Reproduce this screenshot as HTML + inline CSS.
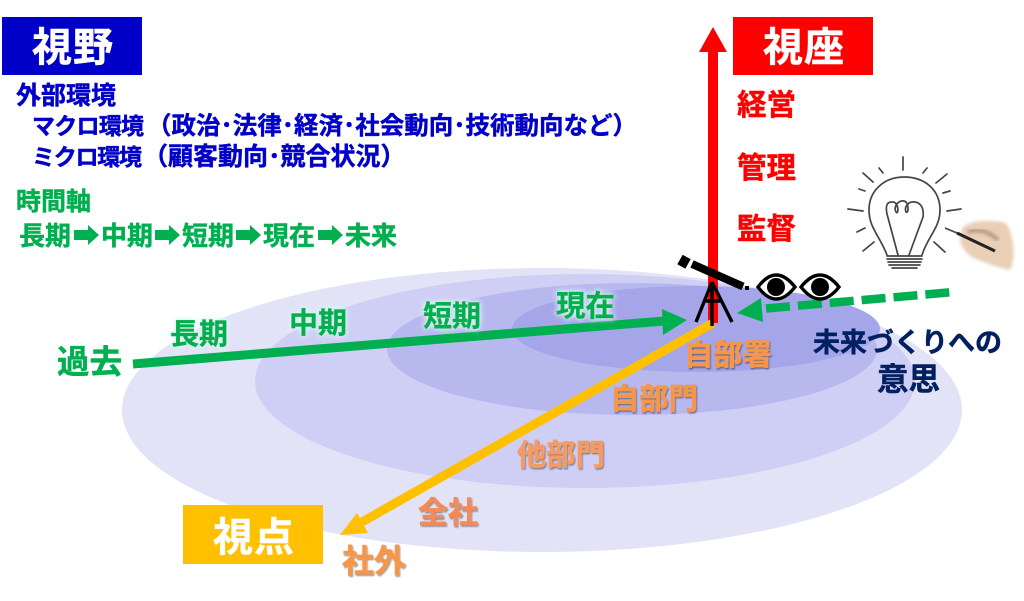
<!DOCTYPE html>
<html><head><meta charset="utf-8"><style>
html,body{margin:0;padding:0;background:#fff}
svg{display:block}
text{font-family:"Liberation Sans","Noto Sans CJK JP",sans-serif;font-weight:700;stroke-width:.45px;paint-order:stroke}
</style></head><body>
<svg width="1024" height="601" viewBox="0 0 1024 601" xmlns="http://www.w3.org/2000/svg">
<defs>
<filter id="s" x="-20%" y="-20%" width="140%" height="150%"><feDropShadow dx="1" dy="1.5" stdDeviation=".8" flood-color="#000" flood-opacity=".4"/></filter>
<filter id="g" x="-20%" y="-30%" width="140%" height="160%"><feGaussianBlur in="SourceAlpha" stdDeviation="3" result="b"/><feFlood flood-color="#d8f6f4" flood-opacity="1"/><feComposite in2="b" operator="in" result="c"/><feMerge><feMergeNode in="c"/><feMergeNode in="c"/><feMergeNode in="SourceGraphic"/></feMerge></filter>
<filter id="b1"><feGaussianBlur stdDeviation="1.6"/></filter>
<filter id="b0"><feGaussianBlur stdDeviation=".35"/></filter>
</defs>
<rect width="1024" height="601" fill="#fff"/>
<ellipse cx="542" cy="410" rx="420" ry="142" fill="#e2e3f7"/>
<ellipse cx="585" cy="381" rx="330" ry="107" fill="#cfcef4"/>
<ellipse cx="632" cy="349" rx="245" ry="66" fill="#b7b8ee"/>
<ellipse cx="696" cy="329" rx="184" ry="43" fill="#a5a6e9"/>

<rect x="2" y="17" width="140" height="58" fill="#0000c8"/>
<text x="32" y="61" font-size="40" fill="#fff" stroke="#fff" textLength="81">視野</text>
<rect x="733" y="17" width="140" height="58" fill="#ff0000"/>
<text x="763" y="61" font-size="40" fill="#fff" stroke="#fff" textLength="81">視座</text>
<rect x="183" y="505" width="140" height="59" fill="#ffc000"/>
<text x="213" y="551" font-size="40" fill="#fff" stroke="#fff" textLength="81">視点</text>

<g fill="#0000c8" stroke="#0000c8">
<text x="16" y="104" font-size="25" textLength="100">外部環境</text>
<text x="32" y="134" font-size="23" textLength="112">マクロ環境</text>
<text x="147" y="134" font-size="24.5">（政治･法律･経済･社会動向･技術動向など）</text>
<text x="32" y="165" font-size="23" textLength="110">ミクロ環境</text>
<text x="143" y="165" font-size="25">（顧客動向･競合状況）</text>
</g>
<text x="16" y="210" font-size="25" fill="#00b050" stroke="#00b050" textLength="75">時間軸</text>
<g fill="#00b050" stroke="#00b050" font-size="26">
<text x="19" y="245">長期</text><text x="101" y="245">中期</text>
<text x="182" y="245">短期</text><text x="263" y="245">現在</text>
<text x="345" y="245">未来</text>
</g>
<g fill="#00b050">
<path d="M74 230h14v-5l11 10-11 10v-5H74z"/>
<path d="M155 230h14v-5l11 10-11 10v-5h-14z"/>
<path d="M236 230h14v-5l11 10-11 10v-5h-14z"/>
<path d="M318 230h14v-5l11 10-11 10v-5h-14z"/>
</g>

<rect x="708" y="50" width="10" height="273" fill="#ff0000"/>
<path d="M699 52 713 27 727 52z" fill="#ff0000"/>
<g fill="#ff0000" stroke="#ff0000" font-size="29.5">
<text x="737" y="115">経営</text>
<text x="737" y="178">管理</text>
<text x="737" y="239">監督</text>
</g>

<path d="M133 364 664 321" stroke="#00b050" stroke-width="9"/>
<path d="M662 309 687 320 663 335z" fill="#00b050"/>
<path d="M713 323 362 522" stroke="#ffc000" stroke-width="9"/>
<path d="M340 535 357 513 368 533z" fill="#ffc000"/>

<path d="M766 308.5 954 292" stroke="#00b050" stroke-width="8.5" stroke-dasharray="24 8"/>
<path d="M737 313 761 298 763 322z" fill="#00b050"/>

<g stroke="#000" fill="none">
<path d="M692 264 743 286.5" stroke-width="8"/>
<path d="M680 259.5 688 264" stroke-width="11"/>
<path d="M712 282 696 322M712 282 732 322M712 282V326M703 301H722" stroke-width="3.4"/>
</g>
<rect x="745" y="286" width="4" height="4" fill="#000"/>
<path d="M758 287Q776 263 795 287Q776 311 758 287z" fill="#fff" stroke="#000" stroke-width="3.4"/>
<circle cx="776" cy="287" r="9" fill="#000"/>
<path d="M801 287Q820 263 839 287Q820 311 801 287z" fill="#fff" stroke="#000" stroke-width="3.4"/>
<circle cx="820" cy="287" r="9" fill="#000"/>

<g fill="none" stroke="#444" stroke-width="1.7" stroke-linecap="round" filter="url(#b0)">
<path d="M887 255C880 236 869 228 869 210C869 190 885 177 904 177C925 177 940 190 940 210C940 228 928 236 922 255"/>
<path d="M898 255 887 214C885 204 888 202 892 202C899 201 899 216 896 212C893 206 899 200 904 201C909 202 909 214 906 212C904 207 908 201 915 202C922 203 924 210 923 217L909 255"/>
<path d="M887 256H922M887 259H922M888 262H921M889 265H920M892 268H917"/>
<path d="M903 157V170M863 173 873 182M879 168 883 173M859 189 865 191M848 209 863 211M857 232 865 228M863 251 874 242M923 173 927 168M936 183 947 174M943 193 950 191M947 211 961 209M934 242 945 252"/>
</g>
<path d="M962 228C968 223 978 220 990 221C1000 221 1006 222 1008 226C1014 240 1016 258 1010 270C1003 268 993 266 987 263C978 260 970 257 967 253C963 248 960 244 960 240z" fill="#e8cfb6" filter="url(#b1)"/>
<path d="M968 232C978 228 990 232 998 240" stroke="#b8977d" stroke-width="4" fill="none" filter="url(#b1)"/>
<path d="M945 228 957 233" stroke="#444" stroke-width="1.7"/>
<path d="M957 233 995 251" stroke="#222" stroke-width="3"/>

<g filter="url(#g)" fill="#00b050" stroke="#00b050">
<text x="170" y="344" font-size="29">長期</text>
<text x="289" y="333" font-size="29">中期</text>
<text x="423" y="326" font-size="29">短期</text>
<text x="556" y="316" font-size="29.5">現在</text>
</g>
<text x="57" y="373" font-size="32.5" fill="#00b050" stroke="#00b050">過去</text>
<g filter="url(#s)">
<g fill="#f79646" stroke="#f79646" font-size="29.3">
<text x="684" y="365">自部署</text>
<text x="610" y="409">自部門</text>
</g>
<text x="517" y="465" font-size="29.3" fill="#f79a60" stroke="#f79a60">他部門</text>
<text x="418" y="523" font-size="30" fill="#f58a55" stroke="#f58a55">全社</text>
<text x="342" y="572" font-size="32" fill="#f79646" stroke="#f79646">社外</text>
</g>
<g fill="#002060" stroke="#002060">
<text x="813" y="352" font-size="27" textLength="189">未来づくりへの</text>
<text x="877" y="390" font-size="31.5">意思</text>
</g>
</svg>
</body></html>
